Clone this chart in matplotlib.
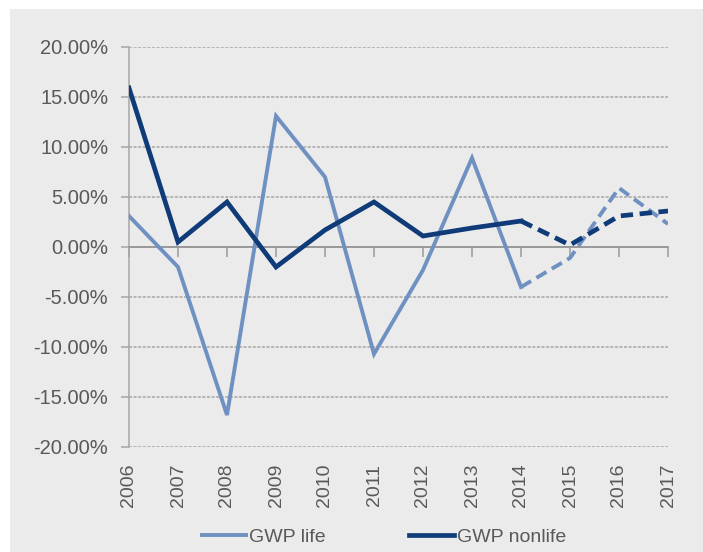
import matplotlib
matplotlib.use("Agg")
import matplotlib.pyplot as plt
from matplotlib.patches import Rectangle
from matplotlib.ticker import FuncFormatter, MultipleLocator

years = ["2006", "2007", "2008", "2009", "2010", "2011",
         "2012", "2013", "2014", "2015", "2016", "2017"]
gwp_life = [3.1, -2.0, -16.8, 13.1, 7.0, -10.7, -2.3, 8.9, -4.0, -1.1, 5.9, 2.3]
gwp_nonlife = [15.9, 0.5, 4.5, -2.0, 1.7, 4.5, 1.1, 1.9, 2.6, 0.2, 3.1, 3.6]
split = 8  # index of 2014: actual values up to here, forecast after

life_color = "#6f91c2"
nonlife_color = "#0f3b78"
text_color = "#595959"
bg_color = "#ebebeb"

plt.rcParams["font.family"] = ["Liberation Sans", "DejaVu Sans"]

W, H = 703, 552
fig = plt.figure(figsize=(W / 100, H / 100), dpi=100, facecolor="white")
fig.patches.append(Rectangle((10 / W, 0), 1 - 10 / W, 1 - 9 / H,
                             transform=fig.transFigure, facecolor=bg_color,
                             edgecolor="none", zorder=-10))

left, right, top, bottom = 129, 668, 47, 447
ax = fig.add_axes([left / W, 1 - bottom / H, (right - left) / W, (bottom - top) / H])
ax.set_facecolor("none")

x = list(range(len(years)))
ax.plot(x[:split + 1], gwp_life[:split + 1], color=life_color, lw=2.8,
        solid_joinstyle="miter", label="GWP life", zorder=3)
ax.plot(x[split:], gwp_life[split:], color=life_color, lw=2.8,
        dashes=(3, 1.6), zorder=3)
ax.plot(x[:split + 1], gwp_nonlife[:split + 1], color=nonlife_color, lw=3.4,
        solid_joinstyle="miter", label="GWP nonlife", zorder=4)
ax.plot(x[split:], gwp_nonlife[split:], color=nonlife_color, lw=3.4,
        dashes=(2.6, 1.4), zorder=4)

ax.set_xlim(0, len(years) - 1)
ax.set_ylim(-20, 20)
ax.yaxis.set_major_locator(MultipleLocator(5))
ax.yaxis.set_major_formatter(FuncFormatter(lambda v, p: f"{v:.2f}%"))

ax.grid(axis="y", color="#a6a6a6", lw=1.1, linestyle=(0, (2, 1)), zorder=1)
ax.axhline(0, color="#9a9a9a", lw=1.3, zorder=2)

for s in ["top", "right"]:
    ax.spines[s].set_visible(False)
ax.spines["left"].set_color("#a6a6a6")
ax.spines["left"].set_linewidth(1.1)
ax.spines["bottom"].set_position(("data", 0))
ax.spines["bottom"].set_color("#9a9a9a")
ax.spines["bottom"].set_linewidth(1.3)

ax.set_xticks(x)
ax.tick_params(axis="x", direction="out", length=7, width=1.1,
               color="#9a9a9a", labelbottom=False)
ax.tick_params(axis="y", direction="out", length=6, width=1.1,
               color="#a6a6a6", labelsize=14.5, labelcolor=text_color, pad=9)

sec = ax.secondary_xaxis(0.0)
sec.set_xticks(x)
sec.set_xticklabels(years, rotation=90, fontsize=14, color=text_color)
sec.tick_params(length=0, pad=12)
sec.spines["bottom"].set_visible(False)

handles, labels = ax.get_legend_handles_labels()
leg = fig.legend(handles, labels, loc="center", bbox_to_anchor=(384 / W, 1 - 537 / H),
                 ncol=2, frameon=False, fontsize=14, handlelength=2.3,
                 handletextpad=0.15, columnspacing=4.3, labelcolor=text_color)

fig.savefig("out.png", dpi=100, facecolor=fig.get_facecolor())
